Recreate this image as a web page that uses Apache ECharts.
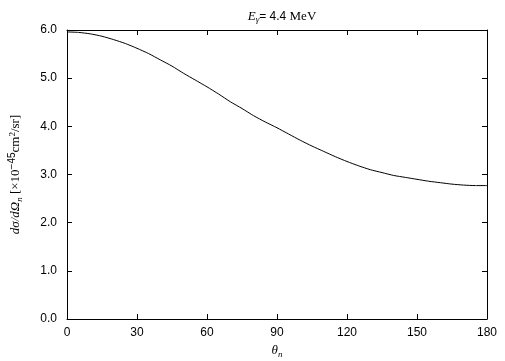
<!DOCTYPE html>
<html>
<head>
<meta charset="utf-8">
<script src="https://cdn.jsdelivr.net/npm/echarts@6/dist/echarts.min.js"></script>
<style>
  html, body { margin: 0; padding: 0; background: #fff; }
  #chart { width: 505px; height: 361px; }
</style>
</head>
<body>
<div id="chart"></div>
<script>
// angle theta_n in degrees
const angles = [0, 5, 10, 15, 20, 25, 30, 35, 40, 45, 50, 55, 60, 65, 70, 75, 80, 85, 90,
  95, 100, 105, 110, 115, 120, 125, 130, 135, 140, 145, 150, 155, 160, 165, 170, 175, 180];
// d sigma / d Omega_n in 1e-45 cm^2/sr
const xsec = [5.96, 5.95, 5.92, 5.87, 5.80, 5.72, 5.62, 5.51, 5.38, 5.25, 5.10, 4.96, 4.82, 4.67, 4.51, 4.37, 4.22, 4.09, 3.97,
  3.84, 3.71, 3.59, 3.48, 3.37, 3.27, 3.18, 3.10, 3.04, 2.98, 2.94, 2.90, 2.86, 2.83, 2.80, 2.78, 2.77, 2.77];
const xTicks = [0, 30, 60, 90, 120, 150, 180];
const yTicks = [0, 1, 2, 3, 4, 5, 6];

const myChart = echarts.init(document.getElementById("chart"));

const tickFont = { color: "#000", fontSize: 12, fontFamily: "Liberation Sans" };
const lineStyle = { color: "#000", width: 1 };

const option = {
  animation: false,
  backgroundColor: "#fff",
  title: {
    left: 277,
    top: 4,
    textAlign: "center",
    text: "{e|E}{g|γ}{t|= 4.4 }{m|MeV}",
    textStyle: {
      fontWeight: "normal",
      rich: {
        e: { fontFamily: "Liberation Serif", fontStyle: "italic", fontWeight: "normal", fontSize: 13, color: "#000" },
        g: { fontFamily: "Liberation Serif", fontStyle: "italic", fontWeight: "normal", fontSize: 9, color: "#000", padding: [6, 0, 0, 0] },
        t: { fontFamily: "Liberation Sans", fontWeight: "normal", fontSize: 12, color: "#000" },
        m: { fontFamily: "Liberation Serif", fontWeight: "normal", fontSize: 13, color: "#000" }
      }
    }
  },
  grid: { left: 67, right: 18, top: 30, bottom: 42, outerBoundsMode: "none" },
  xAxis: [
    {
      type: "value",
      min: 0,
      max: 180,
      interval: 30,
      name: "{t|θ}{s|n}",
      nameLocation: "middle",
      nameGap: 21,
      nameTextStyle: {
        rich: {
          t: { fontFamily: "Liberation Serif", fontStyle: "italic", fontSize: 13, color: "#000" },
          s: { fontFamily: "Liberation Serif", fontStyle: "italic", fontSize: 9, color: "#000", padding: [8, 0, 0, 0] }
        }
      },
      axisLine: { onZero: false, lineStyle },
      axisTick: { inside: true, length: 5, lineStyle },
      axisLabel: { ...tickFont, margin: 8, formatter: v => (xTicks.includes(v) ? String(v) : "") },
      splitLine: { show: false }
    },
    {
      type: "value",
      position: "top",
      min: 0,
      max: 180,
      interval: 30,
      axisLine: { show: true, onZero: false, lineStyle },
      axisTick: { show: true, inside: true, length: 5, lineStyle },
      axisLabel: { show: false },
      splitLine: { show: false }
    }
  ],
  yAxis: [
    {
      type: "value",
      min: 0,
      max: 6,
      interval: 1,
      name: "{a|dσ/dΩ}{s|n}{b| [×10}{p|−45}{c|cm}{q|2}{d|/sr]}",
      nameLocation: "middle",
      nameRotate: 90,
      nameGap: 42,
      nameTextStyle: {
        rich: {
          a: { fontFamily: "Liberation Serif", fontStyle: "italic", fontSize: 13, color: "#000" },
          s: { fontFamily: "Liberation Serif", fontStyle: "italic", fontSize: 9, color: "#000", padding: [7, 0, 0, 0] },
          b: { fontFamily: "Liberation Serif", fontSize: 13, color: "#000" },
          p: { fontFamily: "Liberation Sans", fontSize: 10, color: "#000", padding: [0, 0, 8, 0] },
          c: { fontFamily: "Liberation Serif", fontSize: 13, color: "#000" },
          q: { fontFamily: "Liberation Serif", fontSize: 9, color: "#000", padding: [0, 0, 7, 0] },
          d: { fontFamily: "Liberation Serif", fontSize: 13, color: "#000" }
        }
      },
      axisLine: { onZero: false, lineStyle },
      axisTick: { inside: true, length: 5, lineStyle },
      axisLabel: { ...tickFont, margin: 10, formatter: v => (yTicks.includes(v) ? v.toFixed(1) : "") },
      splitLine: { show: false }
    },
    {
      type: "value",
      position: "right",
      min: 0,
      max: 6,
      interval: 1,
      axisLine: { show: true, onZero: false, lineStyle },
      axisTick: { show: true, inside: true, length: 5, lineStyle },
      axisLabel: { show: false },
      splitLine: { show: false }
    }
  ],
  series: [
    {
      type: "line",
      xAxisIndex: 0,
      yAxisIndex: 0,
      data: angles.map((a, i) => [a, xsec[i]]),
      smooth: 0.2,
      showSymbol: false,
      lineStyle: { color: "#000", width: 1 }
    }
  ]
};

myChart.setOption(option);
</script>
</body>
</html>
